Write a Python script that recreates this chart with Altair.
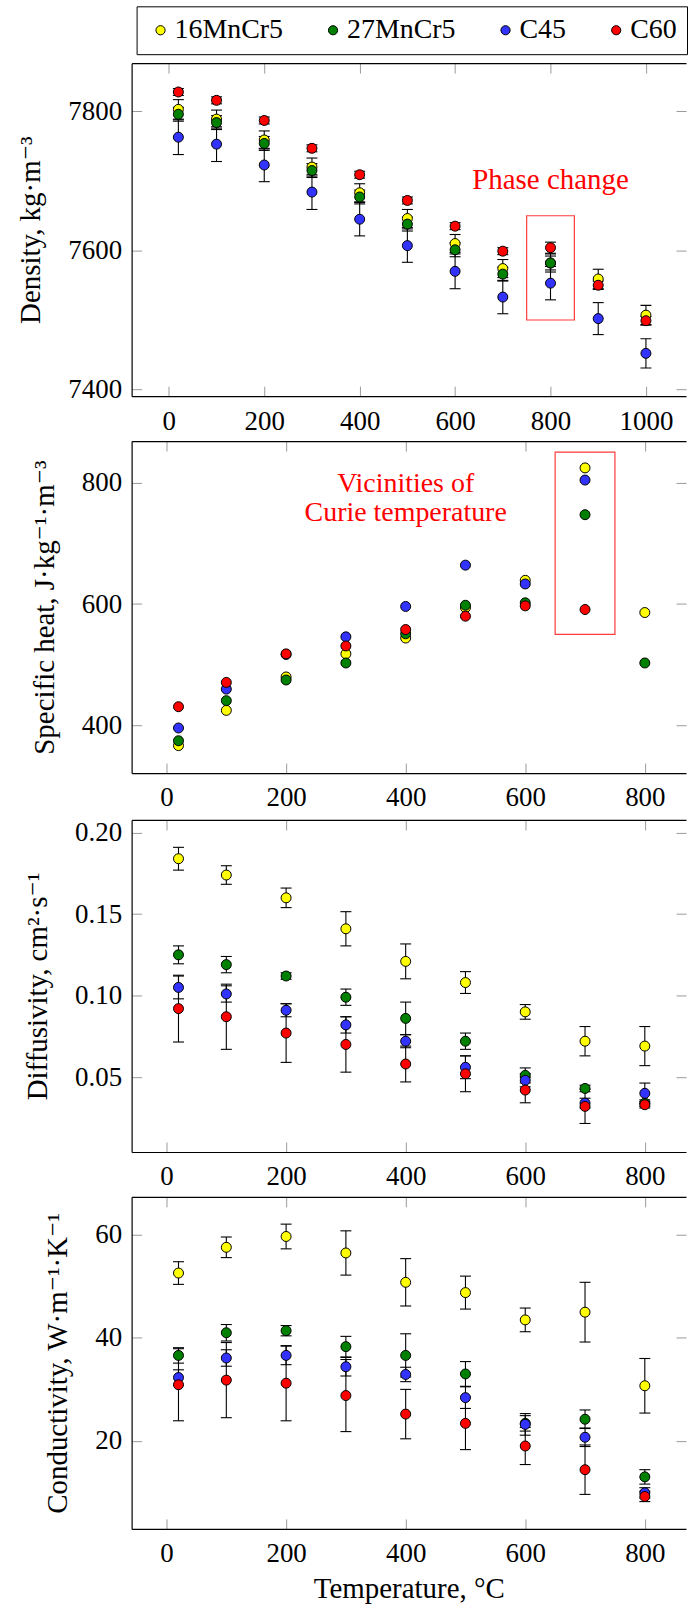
import altair as alt
import pandas as pd

FONT = "Liberation Serif, DejaVu Serif, serif"
TICK_GRAY = "#9a9a9a"

SERIES = ["16MnCr5", "27MnCr5", "C45", "C60"]
COLORS = ["#ffff00", "#008000", "#3333ff", "#ff0000"]

# ---------------- Density ----------------
T_DENSITY = [20, 100, 200, 300, 400, 500, 600, 700, 800, 900, 1000]
DENS_16MNCR5 = [7803, 7789, 7759, 7720, 7683, 7646, 7610, 7574, 7582, 7559, 7507]
DENS_27MNCR5 = [7796, 7784, 7754, 7715, 7677, 7638, 7601, 7566, 7582, None, None]
DENS_C45 = [7763, 7753, 7723, 7684, 7645, 7607, 7570, 7533, 7553, 7502, 7452]
DENS_C60 = [7828, 7816, 7787, 7747, 7709, 7672, 7635, 7599, 7604, 7550, 7499]
DENS_ERR_16MNCR5 = [14, 13, 13, 13, 13, 13, 13, 13, 13, 14, 14]
DENS_ERR_27MNCR5 = [10, 10, 10, 10, 10, 10, 10, 10, 10, 10, 10]
DENS_ERR_C45 = [25, 25, 24, 25, 24, 24, 25, 24, 24, 23, 21]
DENS_ERR_C60 = [5, 5, 5, 5, 5, 5, 5, 5, 8, 6, 6]

# ---------------- Specific heat ----------------
T_OTHER = [20, 100, 200, 300, 400, 500, 600, 700, 800]
CP_16MNCR5 = [367, 425, 480, 518, 544, 594, 639, 824, 586]
CP_27MNCR5 = [375, 441, 475, 503, 551, 598, 602, 747, 503]
CP_C45 = [396, 460, 517, 546, 596, 664, 633, 804, None]
CP_C60 = [431, 471, 518, 531, 558, 580, 597, 591, None]

# ---------------- Diffusivity ----------------
DIF_16MNCR5 = [0.184, 0.174, 0.160, 0.141, 0.121, 0.108, 0.090, 0.072, 0.069]
DIF_27MNCR5 = [0.125, 0.119, 0.112, 0.099, 0.086, 0.072, 0.051, 0.043, 0.034]
DIF_C45 = [0.105, 0.101, 0.091, 0.082, 0.072, 0.056, 0.048, 0.034, 0.040]
DIF_C60 = [0.092, 0.087, 0.077, 0.070, 0.058, 0.052, 0.042, 0.032, 0.033]
DIF_ERR_16MNCR5 = [0.007, 0.0057, 0.006, 0.0105, 0.0107, 0.0067, 0.0045, 0.009, 0.012]
DIF_ERR_27MNCR5 = [0.0055, 0.005, 0.002, 0.005, 0.01, 0.005, 0.0046, 0.002, 0.002]
DIF_ERR_C45 = [0.007, 0.005, 0.004, 0.005, 0.004, 0.007, 0.004, 0.003, 0.0063]
DIF_ERR_C60 = [0.0205, 0.02, 0.018, 0.017, 0.011, 0.011, 0.0078, 0.0105, 0.002]

# ---------------- Conductivity ----------------
K_16MNCR5 = [52.6, 57.6, 59.7, 56.5, 50.8, 48.8, 43.5, 45.0, 30.7]
K_27MNCR5 = [36.6, 41.0, 41.4, 38.3, 36.6, 33.0, 23.4, 24.2, 13.0]
K_C45 = [32.3, 36.1, 36.6, 34.4, 32.9, 28.4, 23.2, 20.7, 9.9]
K_C60 = [30.9, 31.8, 31.2, 28.8, 25.2, 23.4, 19.0, 14.4, 9.2]
K_ERR_16MNCR5 = [2.2, 2.0, 2.4, 4.3, 4.6, 3.2, 2.3, 5.8, 5.3]
K_ERR_27MNCR5 = [1.5, 1.6, 1.0, 2.0, 4.2, 2.4, 1.5, 1.8, 1.4]
K_ERR_C45 = [1.5, 1.6, 1.8, 1.8, 1.4, 2.1, 2.1, 1.8, 1.0]
K_ERR_C60 = [7.0, 7.3, 7.3, 7.0, 4.8, 5.1, 3.6, 4.8, 1.0]

# ---------------- Axes ----------------
X_TICKS_DENSITY = [0, 200, 400, 600, 800, 1000]
X_TICKS_OTHER = [0, 200, 400, 600, 800]
Y_TICKS_DENSITY = [7400, 7600, 7800]
Y_TICKS_CP = [400, 600, 800]
Y_TICKS_DIF = [0.05, 0.10, 0.15, 0.20]
Y_TICKS_K = [20, 40, 60]

# ---------------- Annotations ----------------
PHASE_TEXT = ["Phase change"]
PHASE_TEXT_X = [800]
PHASE_TEXT_Y = [7689]
PHASE_BOX = [750, 850, 7500, 7650]
CURIE_TEXT = ["Vicinities of\nCurie temperature"]
CURIE_TEXT_X = [400]
CURIE_TEXT_Y = [785]
CURIE_BOX = [650, 750, 550, 850]


def make_df(temps, values, errors=None):
    rows = []
    for i, name in enumerate(SERIES):
        errs = errors[i] if errors else [0] * len(temps)
        for t, v, e in zip(temps, values[i], errs):
            if v is None:
                continue
            rows.append({"T": t, "v": v, "s": name, "o": i,
                         "lo": v - e, "hi": v + e})
    return pd.DataFrame(rows)


LEGEND = alt.Legend(orient="none", legendX=5, legendY=-57,
                    direction="horizontal", title=None, strokeColor="black",
                    fillColor="white", padding=10, labelFont=FONT,
                    labelFontSize=28, labelColor="black", labelOffset=0,
                    symbolType="circle", symbolSize=85,
                    symbolStrokeColor="black", symbolStrokeWidth=1,
                    symbolOpacity=1, columnPadding=36)


def panel(df, xdom, xticks, ydom, yticks, yfmt, ytitle, height,
          xtitle=None, errors=True, extra=()):
    xs = alt.Scale(domain=xdom, nice=False, zero=False)
    ys = alt.Scale(domain=ydom, nice=False, zero=False)
    grid = dict(grid=True, gridDash=[10, 4000], gridColor=TICK_GRAY,
                gridWidth=1, gridOpacity=1, ticks=False, tickSize=0)
    x_bottom = alt.Axis(orient="bottom", values=xticks, format="d",
                        domain=True, domainColor="black", domainWidth=1.2,
                        labelPadding=12, titlePadding=8, **grid)
    x_top = alt.Axis(orient="top", values=xticks, labels=False,
                     domain=True, domainColor="black", domainWidth=1.2,
                     minExtent=0, maxExtent=0, **grid)
    y_left = alt.Axis(orient="left", values=yticks, format=yfmt,
                      domain=True, domainColor="black", domainWidth=1.2,
                      labelPadding=10, titlePadding=22, **grid)
    y_right = alt.Axis(orient="right", values=yticks, labels=False,
                       domain=False, minExtent=0, maxExtent=0, **grid)

    base = alt.Chart(df)
    carrier_a = base.mark_point(opacity=0).encode(
        x=alt.X("T:Q", scale=xs, axis=x_bottom, title=xtitle),
        y=alt.Y("v:Q", scale=ys, axis=y_left, title=ytitle),
    )
    carrier_b = base.mark_point(opacity=0).encode(
        x=alt.X("T:Q", scale=xs, axis=x_top, title=None),
        y=alt.Y("v:Q", scale=ys, axis=y_right, title=None),
    )
    xn = alt.X("T:Q", scale=xs, axis=None)
    layers = [carrier_a, carrier_b]
    if errors:
        bars = base.mark_rule(color="black", strokeWidth=1.1).encode(
            x=xn, y=alt.Y("lo:Q", scale=ys, axis=None), y2="hi:Q")
        caps = base.transform_fold(["lo", "hi"], as_=["k", "e"]).mark_tick(
            orient="horizontal", size=11, thickness=1.1, color="black",
            opacity=1).encode(x=xn, y=alt.Y("e:Q", scale=ys, axis=None))
        layers += [bars, caps]
    pts = base.mark_circle(size=100, stroke="black", strokeWidth=1,
                           opacity=1).encode(
        x=xn,
        y=alt.Y("v:Q", scale=ys, axis=None),
        color=alt.Color("s:N", scale=alt.Scale(domain=SERIES, range=COLORS),
                        legend=LEGEND),
        order=alt.Order("o:Q"),
    )
    layers.append(pts)
    for make in extra:
        layers.append(make(xs, ys))
    return alt.layer(*layers).resolve_axis(x="independent", y="independent") \
        .properties(width=556, height=height)


def text_layer(labels, xs_vals, ys_vals, size=28):
    tdf = pd.DataFrame({"label": labels, "x": xs_vals, "y": ys_vals})

    def make(xs, ys):
        return alt.Chart(tdf).mark_text(font=FONT, fontSize=size,
                                        color="#ff0000", align="center",
                                        baseline="alphabetic",
                                        lineBreak="\n", lineHeight=29).encode(
            x=alt.X("x:Q", scale=xs, axis=None),
            y=alt.Y("y:Q", scale=ys, axis=None),
            text="label:N")
    return make


def box_layer(box):
    bdf = pd.DataFrame({"x1": [box[0]], "x2": [box[1]],
                        "y1": [box[2]], "y2": [box[3]]})

    def make(xs, ys):
        return alt.Chart(bdf).mark_rect(fillOpacity=0, stroke="#ff3b3b",
                                        strokeWidth=1.2).encode(
            x=alt.X("x1:Q", scale=xs, axis=None), x2="x2:Q",
            y=alt.Y("y1:Q", scale=ys, axis=None), y2="y2:Q")
    return make


df_dens = make_df(T_DENSITY,
                  [DENS_16MNCR5, DENS_27MNCR5, DENS_C45, DENS_C60],
                  [DENS_ERR_16MNCR5, DENS_ERR_27MNCR5, DENS_ERR_C45, DENS_ERR_C60])
df_cp = make_df(T_OTHER, [CP_16MNCR5, CP_27MNCR5, CP_C45, CP_C60])
df_dif = make_df(T_OTHER, [DIF_16MNCR5, DIF_27MNCR5, DIF_C45, DIF_C60],
                 [DIF_ERR_16MNCR5, DIF_ERR_27MNCR5, DIF_ERR_C45, DIF_ERR_C60])
df_k = make_df(T_OTHER, [K_16MNCR5, K_27MNCR5, K_C45, K_C60],
               [K_ERR_16MNCR5, K_ERR_27MNCR5, K_ERR_C45, K_ERR_C60])

p1 = panel(df_dens, [-78, 1084], X_TICKS_DENSITY, [7390.4, 7869.5],
           Y_TICKS_DENSITY, "d", "Density, kg·m⁻³", 334,
           extra=[box_layer(PHASE_BOX),
                  text_layer(PHASE_TEXT, PHASE_TEXT_X, PHASE_TEXT_Y, 29)])
p2 = panel(df_cp, [-58.4, 868.9], X_TICKS_OTHER, [321.8, 868.2],
           Y_TICKS_CP, "d", "Specific heat, J·kg⁻¹·m⁻³", 333, errors=False,
           extra=[box_layer(CURIE_BOX),
                  text_layer(CURIE_TEXT, CURIE_TEXT_X, CURIE_TEXT_Y, 28)])
p3 = panel(df_dif, [-58.4, 868.9], X_TICKS_OTHER, [0.004, 0.2078],
           Y_TICKS_DIF, ".2f", "Diffusivity, cm²·s⁻¹", 333)
p4 = panel(df_k, [-58.4, 868.9], X_TICKS_OTHER, [2.9, 67.4],
           Y_TICKS_K, "d", "Conductivity, W·m⁻¹·K⁻¹", 333,
           xtitle="Temperature, °C")

chart = alt.vconcat(p1, p2, p3, p4, spacing=7).properties(
    padding={"left": 17, "top": 3, "right": 0, "bottom": 0}
).configure_view(stroke=None).configure_axis(
    labelFont=FONT, labelFontSize=27, labelColor="black",
    titleFont=FONT, titleFontSize=29, titleFontWeight="normal",
    titleColor="black", labelOverlap=False
)

chart.save("out.html", embed_options={"renderer": "svg", "actions": False})
